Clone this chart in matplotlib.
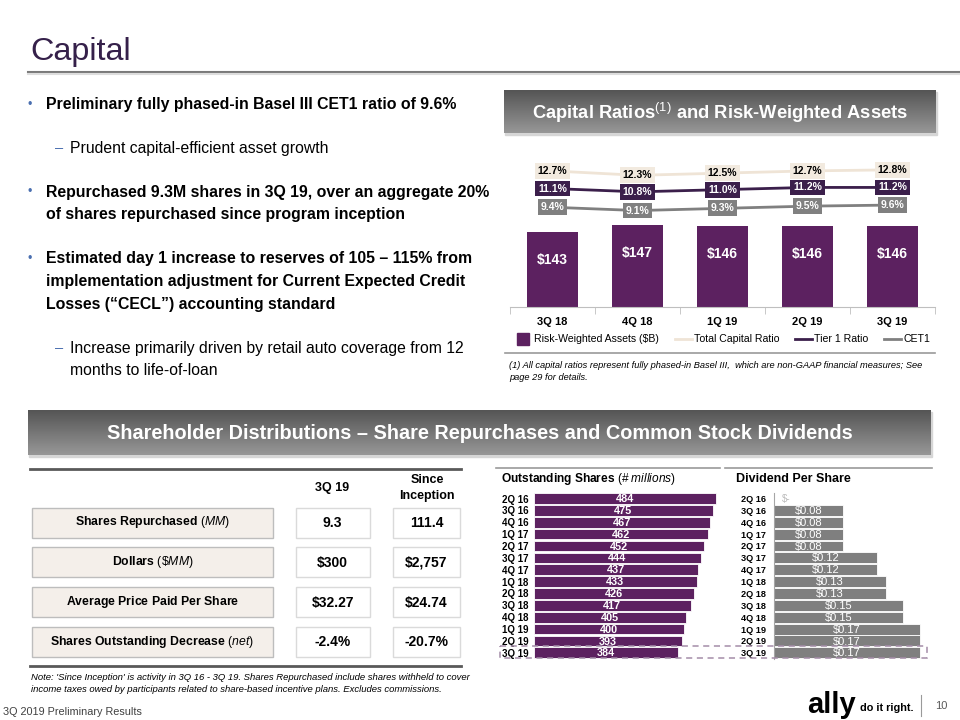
#import packages
import numpy as np
import matplotlib
matplotlib.use("Agg")
import matplotlib.pyplot as plt
from matplotlib.patches import Rectangle
from matplotlib.lines import Line2D
from matplotlib.colors import LinearSegmentedColormap

plt.rcParams['font.family'] = ['Liberation Sans', 'DejaVu Sans']
plt.rcParams['mathtext.fontset'] = 'custom'
plt.rcParams['mathtext.rm'] = 'Liberation Sans'
plt.rcParams['mathtext.it'] = 'Liberation Sans:italic'
plt.rcParams['mathtext.bf'] = 'Liberation Sans:bold'

#chart data
quarters = ["3Q 18", "4Q 18", "1Q 19", "2Q 19", "3Q 19"]
rwa = [143, 147, 146, 146, 146]
total_capital = [12.7, 12.3, 12.5, 12.7, 12.8]
tier1 = [11.1, 10.8, 11.0, 11.2, 11.2]
cet1 = [9.4, 9.1, 9.3, 9.5, 9.6]

share_quarters = ["2Q 16", "3Q 16", "4Q 16", "1Q 17", "2Q 17", "3Q 17", "4Q 17",
                  "1Q 18", "2Q 18", "3Q 18", "4Q 18", "1Q 19", "2Q 19", "3Q 19"]
shares_out = [484, 475, 467, 462, 452, 444, 437, 433, 426, 417, 405, 400, 393, 384]
dividends = [0, 0.08, 0.08, 0.08, 0.08, 0.12, 0.12, 0.13, 0.13, 0.15, 0.15, 0.17, 0.17, 0.17]

table_rows = [r"$\mathbf{Shares\ Repurchased}\ \mathit{(MM)}$",
              r"$\mathbf{Dollars}\ \mathit{(\$MM)}$",
              r"$\mathbf{Average\ Price\ Paid\ Per\ Share}$",
              r"$\mathbf{Shares\ Outstanding\ Decrease}\ \mathit{(net)}$"]
table_q319 = ["9.3", "$300", "$32.27", "-2.4%"]
table_since = ["111.4", "$2,757", "$24.74", "-20.7%"]

PURPLE = "#5C2160"
DARK = "#3B1F4B"
GREY = "#7F7F7F"
BEIGE = "#F2EADF"
BLUE = "#4A6FB0"
W, H = 960, 720

fig = plt.figure(figsize=(9.6, 7.2), dpi=100)

#canvas in pixel coords for slide text and shapes
ax0 = fig.add_axes([0, 0, 1, 1])
ax0.axis('off')


def px_axes(x0, y0, x1, y1):
    return fig.add_axes([x0 / W, 1 - y1 / H, (x1 - x0) / W, (y1 - y0) / H])


grad = LinearSegmentedColormap.from_list("hdr", ["#555555", "#979797"])


def header(x0, y0, x1, y1, text, size):
    ax0.add_patch(Rectangle((x0 + 1, y0 + 2), x1 - x0, y1 - y0, color="#d6d6d6", zorder=1))
    ax0.imshow(np.linspace(0, 1, 64).reshape(-1, 1), cmap=grad,
               extent=[x0, x1, y1, y0], aspect='auto', zorder=2)
    ax0.text((x0 + x1) / 2, (y0 + y1) / 2 + 1, text, color='white', weight='bold',
             size=size, ha='center', va='center', zorder=3)


#title
ax0.text(30, 60, "Capital", size=23.3, color="#35204A", va='baseline')
ax0.plot([28, 960], [72, 72], color="#7a7a7a", lw=1.5)
ax0.plot([28, 960], [74, 74], color="#dddddd", lw=1.5)

#bullets
bullet_lines = [
    ("•", 105, ["Preliminary fully phased-in Basel III CET1 ratio of 9.6%"], True),
    ("–", 148, ["Prudent capital-efficient asset growth"], False),
    ("•", 192, ["Repurchased 9.3M shares in 3Q 19, over an aggregate 20%",
                "of shares repurchased since program inception"], True),
    ("•", 259, ["Estimated day 1 increase to reserves of 105 – 115% from",
                "implementation adjustment for Current Expected Credit",
                "Losses (\u201cCECL\u201d) accounting standard"], True),
    ("–", 348, ["Increase primarily driven by retail auto coverage from 12",
                "months to life-of-loan"], False),
]
for mark, y0, lines, bold in bullet_lines:
    if bold:
        ax0.text(30, y0, mark, color=BLUE, size=9, ha='center', va='center')
        tx = 46
    else:
        ax0.text(59, y0, mark, color=BLUE, size=10.5, ha='center', va='center')
        tx = 70
    for k, line in enumerate(lines):
        ax0.text(tx, y0 + k * 22.8, line, size=11.4 if bold else 11.3,
                 weight='bold' if bold else 'normal', color='black', va='center')

#header boxes
header(504, 90, 936, 133, r"Capital Ratios$^{\mathrm{(1)}}$ and Risk-Weighted Assets", 13.2)
header(28, 410, 931, 455, "Shareholder Distributions – Share Repurchases and Common Stock Dividends", 14.3)

#capital ratios chart
ax1 = px_axes(510, 150, 935, 307)
x = np.arange(len(quarters))
ax1.bar(x, rwa, width=0.6, color=PURPLE, zorder=2)
ax1.set_xlim(-0.5, 4.5)
ax1.set_ylim(100, 189.7)
for xi, v in zip(x, rwa):
    ax1.text(xi, v - 16, f"${v}", color='white', weight='bold', size=10, ha='center', va='center')
ax1.set_xticks(x, quarters)
ax1.set_xticks(np.arange(-0.5, 5, 1), minor=True)
ax1.tick_params(axis='x', which='major', length=0, pad=7.5, labelsize=8)
ax1.tick_params(axis='x', which='minor', length=5, color='#BFBFBF')
for t in ax1.get_xticklabels():
    t.set_fontweight('bold')
ax1.set_yticks([])
for s in ['top', 'left', 'right']:
    ax1.spines[s].set_visible(False)
ax1.spines['bottom'].set_color('#BFBFBF')
ax1.patch.set_visible(False)

ax2 = ax1.twinx()
ax2.set_ylim(0.34, 14.6)
ax2.set_yticks([])
for s in ax2.spines.values():
    s.set_visible(False)
series = [(total_capital, "#EFE4D6", BEIGE, 'black', "Total Capital Ratio"),
          (tier1, DARK, DARK, 'white', "Tier 1 Ratio"),
          (cet1, "#808080", "#808080", 'white', "CET1")]
handles = [Line2D([0], [0], marker='s', ls='none', color=PURPLE, markersize=8)]
labels = ["Risk-Weighted Assets ($B)"]
for vals, lc, fc, tc, name in series:
    ax2.plot(x, vals, color=lc, lw=2, zorder=3)
    for xi, v in zip(x, vals):
        ax2.text(xi, v, f"{v:.1f}%", color=tc, size=7.5, weight='bold', ha='center', va='center',
                 zorder=4, bbox=dict(boxstyle='square,pad=0.28', fc=fc, ec='none'))
    handles.append(Line2D([0], [0], color=lc, lw=2))
    labels.append(name)
ax1.legend(handles, labels, ncol=4, loc='upper center', bbox_to_anchor=(0.5, -0.175),
           frameon=False, fontsize=7.6, handlelength=1.6,
           handletextpad=0.2, columnspacing=1.5, borderaxespad=0, borderpad=0)

#footnote
ax0.plot([505, 935], [353, 353], color="#9a9a9a", lw=1.2)
ax0.text(509, 366, "(1) All capital ratios represent fully phased-in Basel III,  which are non-GAAP financial measures; See",
         size=6.7, style='italic', va='center')
ax0.text(509, 378, "page 29 for details.", size=6.7, style='italic', va='center')

#repurchase table
ax0.plot([30, 461], [469, 469], color="#595959", lw=2)
ax0.text(332, 488, "3Q 19", size=9, weight='bold', ha='center', va='center')
ax0.text(427, 480, "Since", size=9, weight='bold', ha='center', va='center')
ax0.text(427, 496, "Inception", size=9, weight='bold', ha='center', va='center')
for i, (lab, a, b) in enumerate(zip(table_rows, table_q319, table_since)):
    top = 507.5 + i * 39.8
    ax0.add_patch(Rectangle((32, top), 241, 30, fc="#F4EFEA", ec="#BDBDBD", lw=1))
    ax0.add_patch(Rectangle((296, top), 73.5, 30, fc='white', ec="#DADADA", lw=1))
    ax0.add_patch(Rectangle((393, top), 67, 30, fc='white', ec="#DADADA", lw=1))
    ax0.text(152.5, top + 15, lab, size=8.8, ha='center', va='center')
    ax0.text(332.7, top + 15.5, a, size=10, weight='bold', ha='center', va='center')
    ax0.text(426.5, top + 15.5, b, size=10, weight='bold', ha='center', va='center')
ax0.plot([30, 461], [666, 666], color="#595959", lw=2)
ax0.text(31, 677, "Note: 'Since Inception' is activity in 3Q 16 - 3Q 19. Shares Repurchased include shares withheld to cover",
         size=6.8, style='italic', va='center')
ax0.text(31, 689, "income taxes owed by participants related to share-based incentive plans. Excludes commissions.",
         size=6.8, style='italic', va='center')

#outstanding shares chart
ax0.plot([496, 720], [468, 468], color="#9a9a9a", lw=1.2)
ax0.text(501, 479, r"$\mathbf{Outstanding\ Shares}\ \mathit{(\#\ millions)}$", size=8.6, va='center')
row = (652.8 - 498.5) / 13
ytop, ybot = 498.5 - row / 2, 652.8 + row / 2
ax3 = px_axes(534, ytop, 534 + 0.376 * 500, ybot)
yy = np.arange(len(share_quarters))
ax3.barh(yy, shares_out, height=0.9, color=PURPLE, edgecolor='white', lw=0.6)
ax3.set_xlim(0, 500)
ax3.set_ylim(13.5, -0.5)
for yi, v in zip(yy, shares_out):
    ax3.text(v / 2, yi + 0.05, str(v), color='white', weight='bold', size=7.8, ha='center', va='center')
ax3.set_yticks(yy, share_quarters)
ax3.set_xticks([])
ax3.tick_params(axis='y', length=0, pad=4, labelsize=7)
for t in ax3.get_yticklabels():
    t.set_fontweight('bold')
for s in ax3.spines.values():
    s.set_visible(False)
ax3.patch.set_visible(False)

#dividend chart
ax0.plot([725, 932], [468, 468], color="#9a9a9a", lw=1.2)
ax0.text(736, 479, "Dividend Per Share", size=9, weight='bold', va='center')
ax4 = px_axes(774, ytop, 774 + 860 * 0.18, ybot)
ax4.barh(yy, dividends, height=0.92, color=GREY, edgecolor='white', lw=0.6)
ax4.set_xlim(0, 0.18)
ax4.set_ylim(13.5, -0.5)
for yi, v in zip(yy, dividends):
    if v > 0:
        ax4.text(v / 2, yi + 0.05, f"${v:.2f}", color='white', size=8, ha='center', va='center')
    else:
        ax4.text(0.014, yi, "$-", color='#BDBDBD', size=7, ha='center', va='center')
ax4.set_yticks(yy, share_quarters)
ax4.set_xticks([])
ax4.tick_params(axis='y', length=0, pad=6, labelsize=6.6)
for t in ax4.get_yticklabels():
    t.set_fontweight('bold')
for s in ['top', 'right', 'bottom']:
    ax4.spines[s].set_visible(False)
ax4.spines['left'].set_color('#A6A6A6')
ax4.spines['left'].set_linewidth(0.8)
ax4.patch.set_visible(False)

#dashed highlight around latest quarter
top_ax = fig.add_axes([0, 0, 1, 1])
top_ax.axis('off')
top_ax.set_xlim(0, W)
top_ax.set_ylim(H, 0)
top_ax.add_patch(Rectangle((500, 646), 427, 12.3, fill=False, ec="#A48DA8", lw=1.1, ls=(0, (4, 3))))

#footer
ax0.text(3, 712, "3Q 2019 Preliminary Results", size=7.8, color="#404040", va='center')
ax0.text(807, 705, "ally", size=21, weight='bold', color='black', va='center')
ax0.text(860, 708, "do it right.", size=7.8, weight='bold', color='black', va='center')
ax0.plot([921, 921], [695, 716], color="#9a9a9a", lw=0.8)
ax0.text(935, 706, "10", size=8, color="#595959", va='center')

ax0.set_xlim(0, W)
ax0.set_ylim(H, 0)

fig.savefig("out.png", dpi=100)
